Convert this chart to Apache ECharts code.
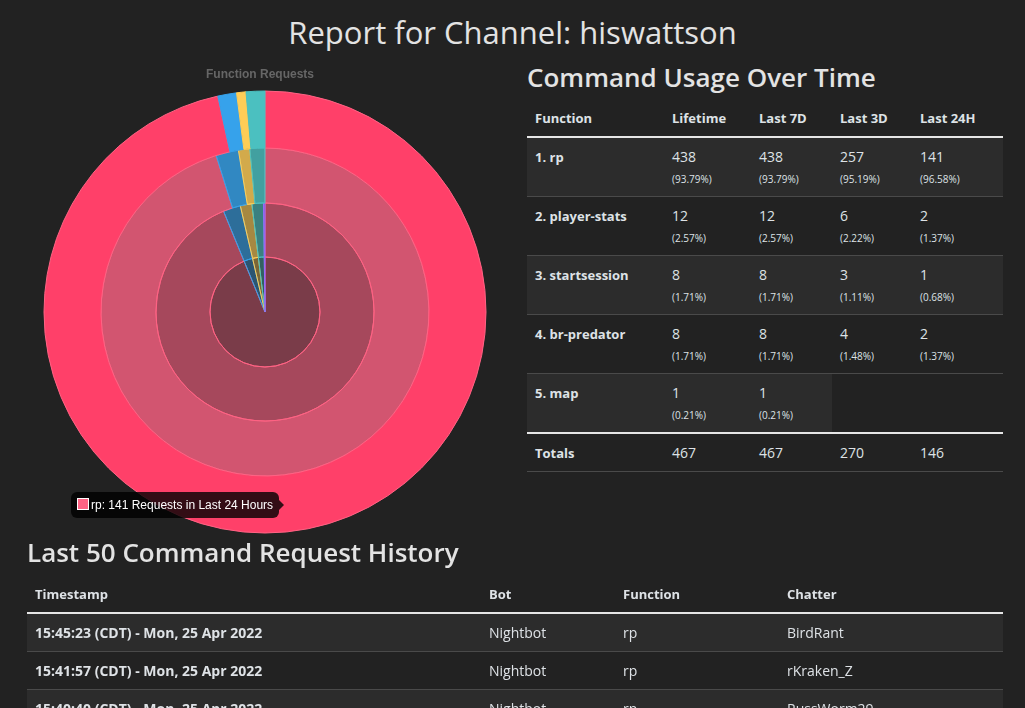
<!DOCTYPE html>
<html>
<head>
<meta charset="utf-8">
<title>Report for Channel: hiswattson</title>
<script src="https://cdn.jsdelivr.net/npm/echarts/dist/echarts.min.js"></script>
<style>
  body { margin: 0; background: #222; color: #dee2e6; font-family: 'Open Sans', sans-serif; width: 1025px; height: 708px; overflow: hidden; position: relative; }
  h1 { position: absolute; left: 0; top: 10px; width: 1025px; margin: 0; text-align: center; font-size: 31px; font-weight: 500; line-height: 44px; color: #e3e3e3; }
  h3 { margin: 0; font-size: 26px; font-weight: 600; line-height: 38px; color: #e3e3e3; }
  #chart { position: absolute; left: 0; top: 60px; width: 520px; height: 480px; }
  #usage { position: absolute; left: 527px; top: 58px; width: 476px; }
  #history { position: absolute; left: 27px; top: 533px; width: 976px; }
  table { border-collapse: collapse; width: 100%; font-size: 14px; table-layout: fixed; }
  th, td { text-align: left; padding: 8px 8px 7px; line-height: 22px; vertical-align: top; }
  thead th { padding: 8px; line-height: 20px; font-size: 13px; border-bottom: 2px solid #e6e6e6; }
  tbody th { font-size: 13px; }
  #history tbody th { font-size: 14px; }
  tbody td, tbody th { border-bottom: 1px solid #4a4a4a; }
  tbody tr:nth-child(odd) > * { background: #2c2c2c; }
  tbody tr > .empty { background: transparent !important; }
  #usage tbody td, #usage tbody th { padding: 8px 8px 6px; }
  #usage .pct { font-size: 10px; }
  tfoot td, tfoot th { padding: 9px 8px 8px; line-height: 20px; border-top: 2px solid #e6e6e6; border-bottom: 1px solid #4a4a4a; }
  tfoot th { font-size: 13px; }
  #usage table { margin-top: 4px; }
  #history table { margin-top: 5px; }
</style>
</head>
<body>
<h1>Report for Channel: hiswattson</h1>
<div id="chart"></div>
<div id="usage">
  <h3>Command Usage Over Time</h3>
  <table>
    <colgroup><col style="width:137px"><col style="width:87px"><col style="width:81px"><col style="width:80px"><col style="width:91px"></colgroup>
    <thead><tr id="usageHead"></tr></thead>
    <tbody id="usageBody"></tbody>
    <tfoot><tr id="usageFoot"></tr></tfoot>
  </table>
</div>
<div id="history">
  <h3>Last 50 Command Request History</h3>
  <table>
    <colgroup><col style="width:454px"><col style="width:134px"><col style="width:164px"><col style="width:224px"></colgroup>
    <thead><tr><th>Timestamp</th><th>Bot</th><th>Function</th><th>Chatter</th></tr></thead>
    <tbody id="historyBody"></tbody>
  </table>
</div>
<script>
// 各时间段的命令使用次数
var functions = ['rp', 'player-stats', 'startsession', 'br-predator', 'map'];
var periods = ['Lifetime', 'Last 7D', 'Last 3D', 'Last 24H'];
var periodNames = ['Lifetime', 'Last 7 Days', 'Last 3 Days', 'Last 24 Hours'];
var lifetime = [438, 12, 8, 8, 1];
var last7d = [438, 12, 8, 8, 1];
var last3d = [257, 6, 3, 4];
var last24h = [141, 2, 1, 2];

// 最近的请求记录
var historyTimes = ['15:45:23 (CDT) - Mon, 25 Apr 2022', '15:41:57 (CDT) - Mon, 25 Apr 2022', '15:40:40 (CDT) - Mon, 25 Apr 2022'];
var historyBots = ['Nightbot', 'Nightbot', 'Nightbot'];
var historyFunctions = ['rp', 'rp', 'rp'];
var historyChatters = ['BirdRant', 'rKraken_Z', 'RussWorm29'];

var baseColors = [[255, 99, 132], [54, 162, 235], [255, 205, 86], [75, 192, 192], [153, 102, 255]];
// 环从外到内: 24H, 3D, 7D, Lifetime
var ringAlpha = [0.4, 0.6, 0.8, 1];
var ringRadius = [[0, 55], [55, 109], [109, 164], [164, 221]];

var allData = [lifetime, last7d, last3d, last24h];
var totals = allData.map(function (arr) {
  return arr.reduce(function (a, b) { return a + b; }, 0);
});

// 表格
var head = '<th>Function</th>';
periods.forEach(function (p) { head += '<th>' + p + '</th>'; });
document.getElementById('usageHead').innerHTML = head;

var body = '';
for (var i = 0; i < functions.length; i++) {
  body += '<tr><th>' + (i + 1) + '. ' + functions[i] + '</th>';
  for (var k = 0; k < allData.length; k++) {
    var v = allData[k][i];
    if (v === undefined) {
      body += '<td class="empty"></td>';
    } else {
      body += '<td><div>' + v + '</div><div class="pct">(' + (v * 100 / totals[k]).toFixed(2) + '%)</div></td>';
    }
  }
  body += '</tr>';
}
document.getElementById('usageBody').innerHTML = body;

var foot = '<th>Totals</th>';
totals.forEach(function (t) { foot += '<td>' + t + '</td>'; });
document.getElementById('usageFoot').innerHTML = foot;

var hist = '';
for (var h = 0; h < historyTimes.length; h++) {
  hist += '<tr><th>' + historyTimes[h] + '</th><td>' + historyBots[h] + '</td><td>' +
    historyFunctions[h] + '</td><td>' + historyChatters[h] + '</td></tr>';
}
document.getElementById('historyBody').innerHTML = hist;

// 饼图
function rgba(c, a) {
  return 'rgba(' + c[0] + ',' + c[1] + ',' + c[2] + ',' + a + ')';
}

var series = allData.map(function (values, k) {
  return {
    type: 'pie',
    name: periodNames[k],
    center: [265, 252],
    radius: ringRadius[k],
    startAngle: 90,
    label: {show: false},
    labelLine: {show: false},
    emphasis: {scale: false},
    animation: false,
    data: values.map(function (v, j) {
      var fill = rgba(baseColors[j], ringAlpha[k]);
      // 鼠标悬停的扇区
      if (k === 3 && j === 0) {
        fill = '#ff4069';
      }
      return {
        name: functions[j],
        value: v,
        itemStyle: {color: fill, borderColor: rgba(baseColors[j], 1), borderWidth: 1}
      };
    })
  };
});

var myChart = echarts.init(document.getElementById('chart'));
myChart.setOption({
  backgroundColor: 'transparent',
  title: {
    text: 'Function Requests',
    left: 'center',
    top: 4,
    textStyle: {color: '#666', fontSize: 12, fontWeight: 'bold', fontFamily: 'Liberation Sans'}
  },
  tooltip: {
    trigger: 'item',
    alwaysShowContent: true,
    transitionDuration: 0,
    position: [71, 432],
    padding: [4, 6],
    backgroundColor: 'rgba(0,0,0,0.8)',
    borderWidth: 0,
    extraCssText: 'box-shadow:none;border-radius:6px;overflow:visible;',
    textStyle: {color: '#fff', fontSize: 12, fontFamily: 'Liberation Sans'},
    formatter: function (p) {
      var c = baseColors[p.dataIndex];
      return '<span style="display:inline-block;width:10px;height:10px;vertical-align:-1px;margin-right:2px;' +
        'background:' + rgba(c, 1) + ';border:1px solid #fff;"></span>' +
        p.name + ': ' + p.value + ' Requests in ' + p.seriesName +
        '<span style="position:absolute;right:-5px;top:50%;margin-top:-5px;width:0;height:0;' +
        'border-top:5px solid transparent;border-bottom:5px solid transparent;border-left:5px solid rgba(0,0,0,0.8);"></span>';
    }
  },
  series: series
});

setTimeout(function () {
  myChart.dispatchAction({type: 'showTip', seriesIndex: 3, dataIndex: 0});
}, 50);
</script>
</body>
</html>
